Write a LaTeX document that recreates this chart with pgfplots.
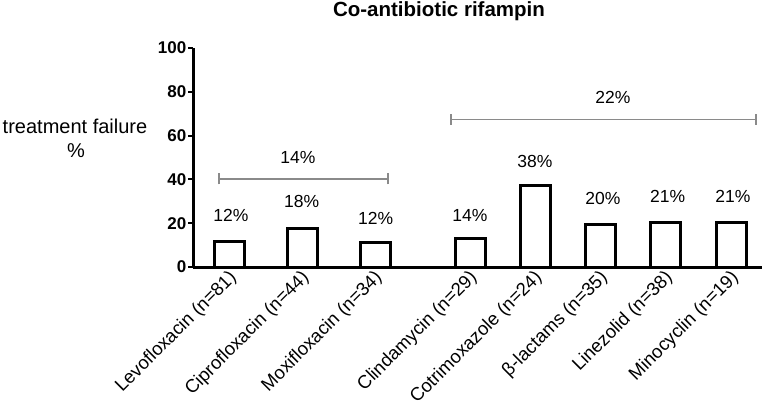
\documentclass[border=0pt]{standalone}
\usepackage{pgfplots}
\pgfplotsset{compat=1.18}
\usepackage{fontspec}
\setmainfont{Liberation Sans}
\definecolor{brk}{HTML}{8A8A8A}
\begin{document}
\begin{tikzpicture}[x=1pt,y=1pt]
\begin{axis}[
  at={(193pt,138pt)}, anchor=south west,
  scale only axis, width=569pt, height=219pt,
  xmin=193, xmax=762, ymin=0, ymax=100,
  axis lines=left, axis line style={line width=3pt, -},
  clip=false,
  ytick={0,20,...,100},
  yticklabel style={font=\fontsize{17}{17}\selectfont\bfseries, inner sep=1.5pt},
  /pgf/number format/assume math mode=true,
  ytick style={line width=2pt, black},
  major tick length=5pt, tick align=outside,
  xtick={229.5,302,375,470,535,600.5,665.5,731.5},
  xticklabels={Levofloxacin (n=81), Ciprofloxacin (n=44), Moxifloxacin (n=34), Clindamycin (n=29), Cotrimoxazole (n=24), β-lactams (n=35), Linezolid (n=38), Minocyclin (n=19)},
  x tick style={draw=none},
  xticklabel style={rotate=45, anchor=east, font=\fontsize{18.5}{18.5}\selectfont, inner sep=1pt, yshift=-5pt, xshift=2pt},
]
\addplot[ybar, bar width=30, fill=white, draw=black, line width=3pt] coordinates {
  (229.5,11.6) (302,17.6) (375,11.2) (470,13.2) (535,37.0) (600.5,19.4) (665.5,20.4) (731.5,20.4)
};
\begin{scope}[font=\fontsize{17.5}{17.5}\selectfont]
\node at (axis cs:231,23.7) {12\%};
\node at (axis cs:301.7,29.8) {18\%};
\node at (axis cs:375.7,22.4) {12\%};
\node at (axis cs:470,23.7) {14\%};
\node at (axis cs:535,48.1) {38\%};
\node at (axis cs:603,31.5) {20\%};
\node at (axis cs:667.7,32.1) {21\%};
\node at (axis cs:733,32.1) {21\%};
\node at (axis cs:298,50.2) {14\%};
\node at (axis cs:613,77.6) {22\%};
\end{scope}
\draw[brk, line width=1.5pt] (axis cs:219,40.2) -- (axis cs:388,40.2);
\draw[brk, line width=1.5pt] (axis cs:219,37.7) -- (axis cs:219,42.7);
\draw[brk, line width=1.5pt] (axis cs:388,37.7) -- (axis cs:388,42.7);
\draw[brk, line width=1.5pt] (axis cs:451,67.4) -- (axis cs:756,67.4);
\draw[brk, line width=1.5pt] (axis cs:451,64.9) -- (axis cs:451,69.9);
\draw[brk, line width=1.5pt] (axis cs:756,64.9) -- (axis cs:756,69.9);
\end{axis}
\node[anchor=base, font=\bfseries\fontsize{20.5}{20.5}\selectfont] at (439pt,388pt) {Co-antibiotic rifampin};
\node[anchor=base, font=\fontsize{20}{20}\selectfont] at (75pt,271pt) {treatment failure};
\node[anchor=base, font=\fontsize{20}{20}\selectfont] at (76pt,247pt) {\%};
\pgfresetboundingbox
\path (0,0) rectangle (764pt,405pt);
\end{tikzpicture}
\end{document}
